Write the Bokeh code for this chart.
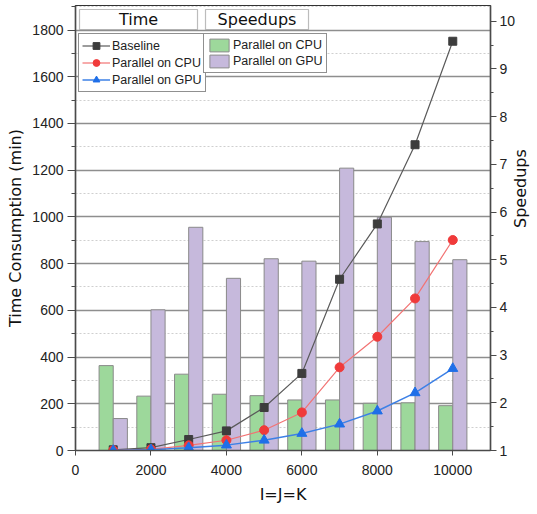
import math
from bokeh.plotting import figure
from bokeh.models import (Range1d, LinearAxis, SingleIntervalTicker, Legend, LegendItem,
                          BoxAnnotation, Label, ColumnDataSource)
from bokeh.transform import dodge
from bokeh.embed import file_html
from bokeh.resources import INLINE

# ---------------- data ----------------
sizes = [1000, 2000, 3000, 4000, 5000, 6000, 7000, 8000, 9000, 10000]
time_baseline = [3, 12, 47, 84, 184, 330, 733, 970, 1309, 1752]
time_cpu = [1, 5, 22, 44, 87, 163, 356, 487, 651, 901]
time_gpu = [0, 3, 12, 23, 44, 73, 113, 169, 247, 351]
speedup_cpu = [2.78, 2.14, 2.60, 2.18, 2.15, 2.06, 2.06, 1.99, 2.00, 1.94]
speedup_gpu = [1.67, 3.95, 5.68, 4.61, 5.02, 4.97, 6.92, 5.89, 5.38, 5.00]

x_label = "I=J=K"
y_label = "Time Consumption (min)"
y2_label = "Speedups"
line_names = ["Baseline", "Parallel on CPU", "Parallel on GPU"]
bar_names = ["Parallel on CPU", "Parallel on GPU"]

# ---------------- style ----------------
NARROW = "Liberation Sans"
WIDE = "DejaVu Sans"
AXIS_C = "#4a4a4a"
GREEN = "#9dd89b"
PURPLE = "#c6b9dc"
BAR_LINE = "#8a8a8a"
FH = 445
FW = 415

src = ColumnDataSource(dict(x=sizes, base=time_baseline, cpu=time_cpu, gpu=time_gpu,
                            scpu=speedup_cpu, sgpu=speedup_gpu))

p = figure(frame_width=FW, frame_height=FH, output_backend="svg", toolbar_location=None,
           x_range=Range1d(0, 11000), y_range=Range1d(0, 1905),
           min_border_left=75, min_border_right=30, min_border_top=5, min_border_bottom=46,
           background_fill_color="white", border_fill_color="white")
p.extra_y_ranges = {"sp": Range1d(1, 10.33)}

p.outline_line_color = "#333333"
p.outline_line_width = 1.2

# grids
p.xgrid.visible = False
p.ygrid.grid_line_color = "#8e8e8e"
p.ygrid.grid_line_width = 1.5
p.ygrid.minor_grid_line_color = "#cfcfcf"
p.ygrid.minor_grid_line_dash = "2 2"
p.ygrid.minor_grid_line_width = 1

# axes
xa = p.xaxis[0]
xa.ticker = SingleIntervalTicker(interval=2000, num_minor_ticks=2)
ya = p.yaxis[0]
ya.ticker = SingleIntervalTicker(interval=200, num_minor_ticks=2)
p.ygrid.ticker = ya.ticker

ra = LinearAxis(y_range_name="sp", ticker=SingleIntervalTicker(interval=1, num_minor_ticks=2))
p.add_layout(ra, "right")

for ax in (xa, ya, ra):
    ax.axis_line_color = AXIS_C
    ax.axis_line_width = 1.5
    ax.major_tick_line_color = AXIS_C
    ax.minor_tick_line_color = AXIS_C
    ax.major_tick_in = 0
    ax.minor_tick_in = 0
    ax.major_label_text_font = NARROW
    ax.major_label_text_font_size = "14px"
    ax.major_label_text_color = "#222222"
    ax.axis_label_text_font = WIDE
    ax.axis_label_text_font_size = "16px"
    ax.axis_label_text_font_style = "normal"
    ax.axis_label_text_color = "#111111"

ya.major_tick_out = 8
ya.minor_tick_out = 4
ra.major_tick_out = 6
ra.minor_tick_out = 3
xa.major_tick_out = 5
xa.minor_tick_out = 0
xa.major_label_standoff = 9
ya.major_label_standoff = 4
ra.major_label_standoff = 3
xa.axis_label = x_label
ya.axis_label = y_label
ra.axis_label = y2_label
xa.axis_label_standoff = 7
ya.axis_label_standoff = 4
ra.axis_label_standoff = 2
if "axis_label_orientation" in ra.properties():
    ra.axis_label_orientation = math.pi / 2

# bars (speedups, right axis)
bw = 375
b1 = p.vbar(x=dodge("x", -bw / 2, range=p.x_range), top="scpu", bottom=1, width=bw,
            source=src, y_range_name="sp", fill_color=GREEN, line_color=BAR_LINE, line_width=1)
b2 = p.vbar(x=dodge("x", bw / 2, range=p.x_range), top="sgpu", bottom=1, width=bw,
            source=src, y_range_name="sp", fill_color=PURPLE, line_color=BAR_LINE, line_width=1)

# lines (time, left axis)
l1 = p.line("x", "base", source=src, line_color="#5a5a5a", line_width=1.2)
m1 = p.scatter("x", "base", source=src, marker="square", size=8, fill_color="#3d3d3d",
               line_color="#3d3d3d")
l2 = p.line("x", "cpu", source=src, line_color="#f27373", line_width=1.2)
m2 = p.scatter("x", "cpu", source=src, marker="circle", size=9, fill_color="#f03a3a",
               line_color="#f03a3a")
l3 = p.line("x", "gpu", source=src, line_color="#3d80e6", line_width=1.5)
m3 = p.scatter("x", "gpu", source=src, marker="triangle", size=10, fill_color="#1f6fe8",
               line_color="#1f6fe8")


def style_legend(lg):
    lg.border_line_color = "#222222"
    lg.border_line_width = 1.2
    lg.background_fill_color = "white"
    lg.background_fill_alpha = 1
    lg.label_text_font = NARROW
    lg.label_text_font_size = "12.5px"
    lg.label_text_color = "#222222"
    lg.margin = 0
    lg.spacing = 0
    lg.label_standoff = 2


leg1 = Legend(items=[LegendItem(label=line_names[0], renderers=[l1, m1]),
                     LegendItem(label=line_names[1], renderers=[l2, m2]),
                     LegendItem(label=line_names[2], renderers=[l3, m3])],
              location=(3, FH - 87))
style_legend(leg1)
leg1.glyph_width = 28
leg1.glyph_height = 17
leg1.label_height = 17
leg1.padding = 3
p.add_layout(leg1, "center")

leg2 = Legend(items=[LegendItem(label=bar_names[0], renderers=[b1]),
                     LegendItem(label=bar_names[1], renderers=[b2])],
              location=(128, FH - 68))
style_legend(leg2)
leg2.glyph_width = 24
leg2.glyph_height = 16
leg2.label_height = 16
leg2.padding = 3
p.add_layout(leg2, "center")

# header boxes above the legends
headers = [("Time", 4, 122), ("Speedups", 130, 233)]
for text, x0, x1 in headers:
    p.add_layout(BoxAnnotation(left=x0, right=x1, top=FH - 4, bottom=FH - 24,
                               left_units="screen", right_units="screen",
                               top_units="screen", bottom_units="screen",
                               fill_color="white", fill_alpha=1,
                               line_color="#222222", line_width=1.2, level="overlay"))
    p.add_layout(Label(x=(x0 + x1) / 2, y=FH - 14, x_units="screen", y_units="screen",
                       text=text, text_font=WIDE, text_font_size="16px",
                       text_align="center", text_baseline="middle", text_color="#111111",
                       level="overlay"))

open("out.html", "w").write(file_html(p, INLINE))
